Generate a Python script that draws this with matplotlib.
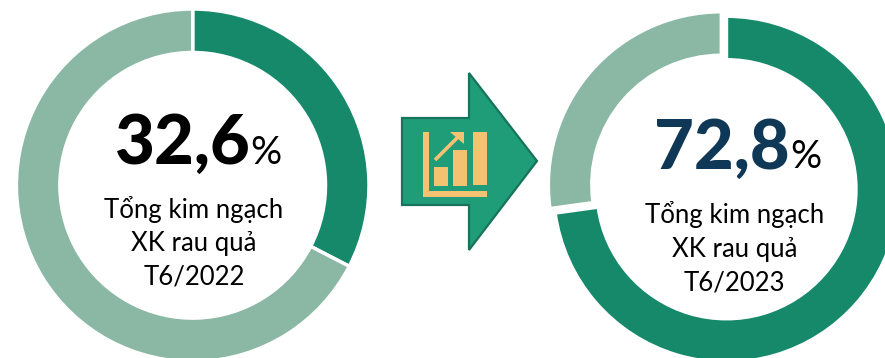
import matplotlib
matplotlib.use("Agg")
import matplotlib.pyplot as plt
from matplotlib.patches import Polygon, Rectangle

W, H = 885, 358
FONT = ["Lato", "Open Sans", "DejaVu Sans"]

# Export share of fruit and vegetables, June of each year
share_2022 = [32.6, 67.4]
share_2023 = [72.8, 27.2]
value_labels = ["32,6", "72,8"]
caption_lines = ["Tổng kim ngạch", "XK rau quả"]
period_labels = ["T6/2022", "T6/2023"]

DARK = "#17896B"
LIGHT = "#8AB8A5"
ARROW = "#1F9C78"
ARROW_EDGE = "#17745A"
ICON = "#F5C272"
NAVY = "#0F3857"

fig = plt.figure(figsize=(W / 100, H / 100), dpi=100)
ax = fig.add_axes([0, 0, 1, 1])


def yy(v):
    return H - v


def donut(values, cx, cy, radius, ring, gap=0.0):
    # pie() takes the explode offset in data units, here pixels
    ax.pie(values, colors=[DARK, LIGHT], startangle=90, counterclock=False,
           center=(cx, yy(cy)), radius=radius, frame=True,
           explode=[gap, gap],
           wedgeprops=dict(width=ring, edgecolor="white", linewidth=2.5))


def block(cx, value_x, base_y, pct_x, caption_y, value, period, color):
    ax.text(value_x, yy(base_y), value, ha="center", va="baseline", fontsize=49.5,
            fontweight=900, color=color, family=FONT)
    ax.text(pct_x, yy(base_y), "%", ha="center", va="baseline", fontsize=28,
            color="black", family=FONT)
    for i, line in enumerate(caption_lines + [period]):
        ax.text(cx, yy(caption_y + 33.5 * i), line, ha="center", va="baseline",
                fontsize=18.5, color="black", family=FONT)


donut(share_2022, 192.7, 185.3, 176.3, 43.5)
donut(share_2023, 723.9, 187, 173, 43.5, gap=3.4)

block(194, 182.5, 164, 266, 218, value_labels[0], period_labels[0], "black")
block(734.5, 722, 168.5, 806, 223, value_labels[1], period_labels[1], NAVY)

# Arrow between the two rings
arrow_pts = [(402, 118), (469, 118), (469, 73), (537, 161),
             (469, 250), (469, 205), (402, 205)]
ax.add_patch(Polygon([(x, yy(y)) for x, y in arrow_pts], closed=True,
                     facecolor=ARROW, edgecolor=ARROW_EDGE, linewidth=1.6))

# Growth icon inside the arrow
for x, y, w, h in [(434, 167, 14, 19), (453, 150, 14, 36), (473, 132, 14, 53),
                   (423, 132, 6, 65), (423, 191, 64, 6)]:
    ax.add_patch(Rectangle((x, yy(y + h)), w, h, facecolor=ICON, edgecolor="none"))
ax.plot([435, 460], [yy(160), yy(135)], color=ICON, lw=2.6, solid_capstyle="butt")
ax.add_patch(Polygon([(450, yy(132)), (464, yy(132)), (464, yy(144))],
                     closed=True, facecolor=ICON, edgecolor="none"))

ax.set_xlim(0, W)
ax.set_ylim(0, H)
ax.set_aspect("auto")
ax.axis("off")

fig.savefig("out.png", dpi=100)
